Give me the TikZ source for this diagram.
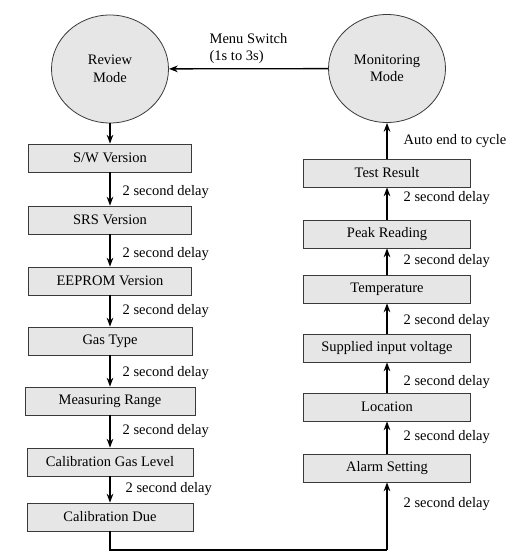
\documentclass[tikz,border=0pt]{standalone}
\usepackage{fontspec}
\setmainfont{Liberation Serif}
\usepackage{tikz}
\usetikzlibrary{arrows.meta,positioning,shapes.geometric}
\definecolor{boxfill}{HTML}{E6E6E6}
\definecolor{boxline}{HTML}{3A3A3A}

\begin{document}
\begin{tikzpicture}[x=1pt,y=-1pt,->,>=Stealth,line width=1.3pt,font=\fontsize{14.5}{17.5}\selectfont]
        \tikzstyle{mode} = [ellipse, draw=boxline, fill=boxfill, line width=0.8pt, minimum width=117pt, minimum height=108pt, align=center]
        \tikzstyle{box} = [rectangle, draw=boxline, fill=boxfill, line width=0.8pt, minimum height=28pt, inner sep=2pt]
        \tikzstyle{lbl} = [right, inner sep=1pt, xshift=11pt, text=black]
        \useasboundingbox (0,0) rectangle (531,559);

        % Nodes
        \node[mode] (rev) at (110,69) {Review\\Mode};
        \node[mode] (mon) at (387,68.5) {Monitoring\\Mode};

        \node[box, minimum width=163pt, node distance=89pt, below of=rev] (sw) {S/W Version};
        \node[box, minimum width=163pt, node distance=62pt, below of=sw] (srs) {SRS Version};
        \node[box, minimum width=163pt, node distance=61pt, below of=srs] (eeprom) {EEPROM Version};
        \node[box, minimum width=164pt, node distance=60pt, below of=eeprom] (gas) {Gas Type};
        \node[box, minimum width=170pt, node distance=60pt, below of=gas] (range) {Measuring Range};
        \node[box, minimum width=166pt, node distance=61pt, below of=range] (calgas) {Calibration Gas Level};
        \node[box, minimum width=166pt, node distance=55pt, below of=calgas] (caldue) {Calibration Due};

        \node[box, minimum width=167pt, node distance=104.5pt, below of=mon] (test) {Test Result};
        \node[box, minimum width=167pt, node distance=61pt, below of=test] (peak) {Peak Reading};
        \node[box, minimum width=167pt, node distance=55pt, below of=peak] (temp) {Temperature};
        \node[box, minimum width=167pt, node distance=59pt, below of=temp] (volt) {Supplied input voltage};
        \node[box, minimum width=167pt, node distance=59pt, below of=volt] (loc) {Location};
        \node[box, minimum width=167pt, node distance=61pt, below of=loc] (alarm) {Alarm Setting};

        \coordinate (turnl) at (caldue.south |- 0,550);
        \coordinate (turnr) at (alarm.south |- 0,550);

        % Edges
        \path (mon) edge node[above, align=left, yshift=1pt] {Menu Switch\\(1s to 3s)} (rev);
        \path (rev) edge (sw);
        \path (sw) edge node[lbl, pos=0.6] {2 second delay} (srs);
        \path (srs) edge node[lbl, pos=0.6] {2 second delay} (eeprom);
        \path (eeprom) edge node[lbl] {2 second delay} (gas);
        \path (gas) edge node[lbl, pos=0.55] {2 second delay} (range);
        \path (range) edge node[lbl] {2 second delay} (calgas);
        \path (calgas) edge node[lbl, xshift=3pt] {2 second delay} (caldue);
        \draw[-] (caldue) -- (turnl) -- (turnr);
        \draw (turnr) -- node[lbl, pos=0.68, xshift=4pt] {2 second delay} (alarm);
        \path (alarm) edge node[lbl, xshift=4pt] {2 second delay} (loc);
        \path (loc) edge node[lbl, pos=0.35, xshift=4pt] {2 second delay} (volt);
        \path (volt) edge node[lbl, pos=0.4, xshift=4pt] {2 second delay} (temp);
        \path (temp) edge node[lbl, xshift=4pt] {2 second delay} (peak);
        \path (peak) edge node[lbl, pos=0.67, xshift=4pt] {2 second delay} (test);
        \path (test) edge node[lbl, xshift=4pt] {Auto end to cycle} (mon);
    \end{tikzpicture}
\end{document}
